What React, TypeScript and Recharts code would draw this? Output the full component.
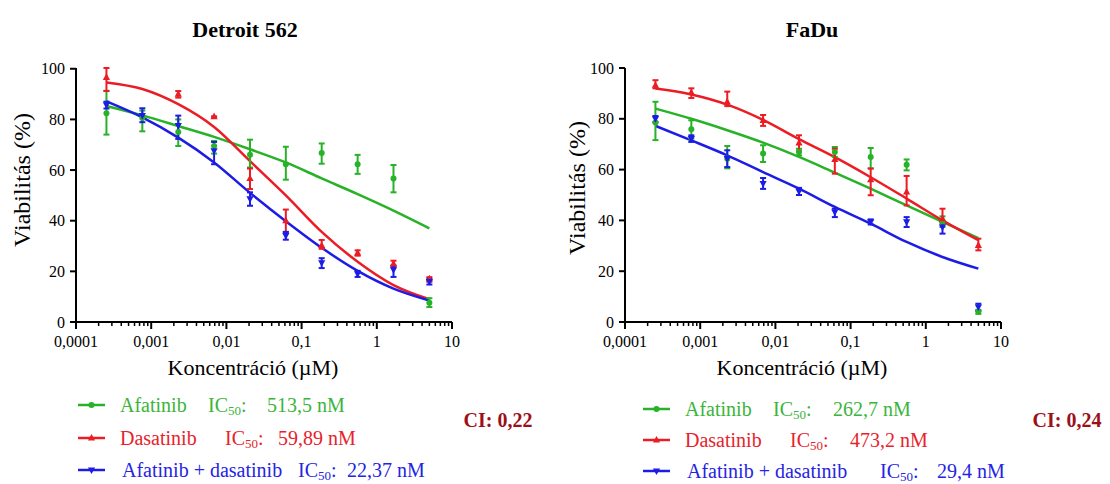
import React from 'react';
import { ComposedChart, Line, Scatter, XAxis, YAxis, ErrorBar } from 'recharts';

const FONT = '"Liberation Serif", "Times New Roman", serif';
const GREEN = '#27b227';
const RED = '#ec1c24';
const BLUE = '#1c1ce6';
const GREEN_TXT = '#3ab53a';
const RED_TXT = '#e8222b';
const BLUE_TXT = '#2424e2';
const CI_COLOR = '#9e1018';

// concentrations (µM), 3-fold dilution series
const conc = [0.000254, 0.000762, 0.00229, 0.00686, 0.0206, 0.0617, 0.185, 0.556, 1.667, 5];

const xMajorTicks = [0.0001, 0.001, 0.01, 0.1, 1, 10];
const xMajorLabels = ['0,0001', '0,001', '0,01', '0,1', '1', '10'];
const xMinorFactors = [2, 3, 4, 5, 6, 7, 8, 9];
const yTicks = [0, 20, 40, 60, 80, 100];

const chartTitles = ['Detroit 562', 'FaDu'];
const seriesNames = ['Afatinib', 'Dasatinib', 'Afatinib + dasatinib'];
const xTitle = 'Koncentráció (µM)';
const yTitle = 'Viabilitás (%)';

// Detroit 562 — Afatinib
const detAfaMean = [82.4, 80.6, 75, 69.5, 66, 62.3, 66.7, 62.3, 56.7, 7.6];
const detAfaLo = [74, 75.3, 69.5, 66.5, 61, 56.2, 62.5, 58.5, 51.2, 5.9];
const detAfaHi = [91.3, 83.5, 80, 71.5, 72, 69.2, 70.5, 66, 62, 9.4];
const detAfaFit = [85.3, 81.6, 77.4, 73.1, 68.2, 63, 56.7, 50.5, 44, 37];
// Detroit 562 — Dasatinib
const detDasMean = [96.6, null, 90, 81.1, 56.7, 40, 30.2, 27.3, 23, 17.1];
const detDasLo = [91.2, null, 88.6, 81.1, 52.5, 35.4, 28.9, 26.2, 21.7, 15.9];
const detDasHi = [100.3, null, 91.2, 81.1, 60.6, 44.4, 32.4, 28.3, 24.2, 17.7];
const detDasFit = [94.6, 92, 86, 77, 63.5, 50, 35.6, 23.8, 14.6, 9];
// Detroit 562 — Afatinib + dasatinib
const detComMean = [85.7, 81.5, 77.6, 67.6, 48.6, 34.1, 23.4, 19, 20.6, 16];
const detComLo = [84.3, 78.9, 72.3, 62.3, 45.9, 32.5, 21.3, 17.8, 17.8, 14.8];
const detComHi = [87, 84.4, 81.5, 71.1, 51.2, 35.6, 25.2, 20.2, 22.3, 17.1];
const detComFit = [87.1, 80.8, 72.8, 63, 51, 39.8, 29.3, 20.2, 13.2, 8.5];

// FaDu — Afatinib
const faAfaMean = [78.5, 75.9, 64.3, 66.3, 66.9, 66.9, 65, 61.9, 39.6, 4];
const faAfaLo = [71.6, 72.2, 60.5, 63, 65.6, 65, 60.5, 59.7, 37.4, 3.2];
const faAfaHi = [86.7, 79.4, 69.3, 69.6, 68.2, 68.9, 68.5, 64, 41.6, 4.8];
const faAfaFit = [84, 80, 75.5, 70.6, 65, 58.8, 52.5, 45.9, 39.4, 33];
// FaDu — Dasatinib
const faDasMean = [93.2, 90.4, 86.7, 79.4, 70.5, 64, 56, 51.2, 40.7, 30.2];
const faDasLo = [92, 88.2, 85, 77.2, 67.2, 58.4, 49.9, 45.9, 38.7, 28.2];
const faDasHi = [95.2, 92, 90.7, 81.5, 73.5, 68.2, 60.4, 57.5, 44.6, 32.8];
const faDasFit = [91.9, 89.6, 85.6, 79.6, 72, 64.9, 57, 48.6, 40, 32.2];
// FaDu — Afatinib + dasatinib
const faComMean = [80, 72.2, 64.3, 54.5, 51.4, 43.3, 39.4, 39.4, 37.4, 5.9];
const faComLo = [78.7, 70.9, 61, 52.4, 50, 41.3, 38.4, 37.4, 34.8, 4.4];
const faComHi = [81.1, 73.5, 67.6, 56.7, 52.8, 44.6, 40.4, 41.3, 39.4, 7.2];
const faComFit = [77.2, 71.5, 65.6, 59, 52.5, 45.3, 38.7, 31.5, 25.6, 21];

const detroitIC50 = ['513,5 nM', '59,89 nM', '22,37 nM'];
const faduIC50 = ['262,7 nM', '473,2 nM', '29,4 nM'];
const ciValues = ['CI: 0,22', 'CI: 0,24'];

type Pt = { x: number; y: number; err: [number, number] };

function toPoints(mean: (number | null)[], lo: (number | null)[], hi: (number | null)[]): Pt[] {
  const out: Pt[] = [];
  conc.forEach((x, i) => {
    const m = mean[i];
    if (m == null) return;
    out.push({ x, y: m, err: [m - (lo[i] as number), (hi[i] as number) - m] });
  });
  return out;
}
function toFit(vals: number[]) {
  return conc.map((x, i) => ({ x, y: vals[i] }));
}

const allXTicks: number[] = [];
xMajorTicks.forEach((m, i) => {
  allXTicks.push(m);
  if (i < xMajorTicks.length - 1) {
    xMinorFactors.forEach((f) => allXTicks.push(Number((m * f).toPrecision(6))));
  }
});

function majorIndex(v: number) {
  return xMajorTicks.findIndex((m) => Math.abs(m - v) / m < 1e-6);
}

const XTick = (props: any) => {
  const { x, y, payload } = props;
  const idx = majorIndex(payload.value);
  const major = idx >= 0;
  return (
    <g>
      <line x1={x} x2={x} y1={y} y2={y + (major ? 7 : 4)} stroke="#000" strokeWidth={major ? 2 : 1.5} />
      {major && (
        <text x={x} y={y + 25} textAnchor="middle" fontSize={16} fontFamily={FONT} fill="#000">
          {xMajorLabels[idx]}
        </text>
      )}
    </g>
  );
};

const circleShape = (color: string) => (p: any) => <circle cx={p.cx} cy={p.cy} r={3} fill={color} />;
const triUpShape = (color: string) => (p: any) => (
  <path d={`M${p.cx},${p.cy - 4} L${p.cx + 3.6},${p.cy + 2.6} L${p.cx - 3.6},${p.cy + 2.6} Z`} fill={color} />
);
const triDownShape = (color: string) => (p: any) => (
  <path d={`M${p.cx},${p.cy + 4} L${p.cx + 3.6},${p.cy - 2.6} L${p.cx - 3.6},${p.cy - 2.6} Z`} fill={color} />
);

const markerShapes = [circleShape, triUpShape, triDownShape];
const lineColors = [GREEN, RED, BLUE];
const textColors = [GREEN_TXT, RED_TXT, BLUE_TXT];

type PanelProps = {
  left: number;
  fits: number[][];
  points: Pt[][];
  yTitlePos: [number, number];
};

function Panel({ left, fits, points, yTitlePos }: PanelProps) {
  return (
    <div style={{ position: 'absolute', left, top: 0 }}>
      <ComposedChart width={500} height={484} margin={{ top: 68, right: 48, bottom: 102, left: 16 }}>
        <XAxis
          dataKey="x"
          type="number"
          scale="log"
          domain={[0.0001, 10]}
          allowDataOverflow
          ticks={allXTicks}
          interval={0}
          tickSize={0}
          tickMargin={0}
          tickLine={false}
          tick={<XTick />}
          axisLine={{ stroke: '#000', strokeWidth: 2 }}
          height={60}
          label={(p: any) => {
            const vb = p.viewBox || { x: 76, y: 322, width: 376 };
            return (
              <text x={vb.x + vb.width / 2 - 11} y={vb.y + 53} textAnchor="middle" fontSize={22} fontFamily={FONT} fill="#000">
                {xTitle}
              </text>
            );
          }}
        />
        <YAxis
          dataKey="y"
          type="number"
          domain={[0, 100]}
          ticks={yTicks}
          interval={0}
          width={60}
          tickSize={6}
          tickMargin={5}
          tickLine={{ stroke: '#000', strokeWidth: 2 }}
          axisLine={{ stroke: '#000', strokeWidth: 2 }}
          tick={{ fill: '#000', fontSize: 16, fontFamily: FONT }}
          label={() => (
            <text
              x={yTitlePos[0]}
              y={yTitlePos[1]}
              transform={`rotate(-90 ${yTitlePos[0]} ${yTitlePos[1]})`}
              textAnchor="middle"
              dominantBaseline="central"
              fontSize={24}
              fontFamily={FONT}
              fill="#000"
            >
              {yTitle}
            </text>
          )}
        />
        {fits.map((f, i) => (
          <Line
            key={`fit-${i}`}
            data={toFit(f)}
            dataKey="y"
            type="monotone"
            stroke={lineColors[i]}
            strokeWidth={2.5}
            dot={false}
            activeDot={false}
            isAnimationActive={false}
          />
        ))}
        {points.map((pts, i) => (
          <Scatter
            key={`pts-${i}`}
            data={pts}
            dataKey="y"
            fill={lineColors[i]}
            shape={markerShapes[i](lineColors[i])}
            isAnimationActive={false}
          >
            <ErrorBar dataKey="err" direction="y" width={3} stroke={lineColors[i]} strokeWidth={2} isAnimationActive={false} />
          </Scatter>
        ))}
      </ComposedChart>
    </div>
  );
}

const LegendIcon = ({ i }: { i: number }) => {
  const c = lineColors[i];
  const shape = markerShapes[i](c);
  return (
    <svg width={27} height={10} style={{ display: 'block' }}>
      <line x1={0} x2={27} y1={5} y2={5} stroke={c} strokeWidth={2.5} />
      {shape({ cx: 13.5, cy: 5 })}
    </svg>
  );
};

type LegendLayout = { icon: number; rows: { y: number; cols: number[] }[]; ci: [number, number] };

const legendLayouts: LegendLayout[] = [
  {
    icon: 78,
    rows: [
      { y: 405, cols: [120, 208, 267] },
      { y: 438, cols: [120, 225, 278] },
      { y: 470, cols: [122, 298, 347] },
    ],
    ci: [498, 420],
  },
  {
    icon: 643,
    rows: [
      { y: 409, cols: [685, 773, 833] },
      { y: 440, cols: [685, 790, 850] },
      { y: 471, cols: [687, 880, 937] },
    ],
    ci: [1067, 420],
  },
];

const textBase: React.CSSProperties = {
  position: 'absolute',
  fontFamily: FONT,
  fontSize: 20,
  lineHeight: '20px',
  whiteSpace: 'nowrap',
};

function LegendBlock({ layout, ic50, ci }: { layout: LegendLayout; ic50: string[]; ci: string }) {
  return (
    <>
      {layout.rows.map((r, i) => (
        <React.Fragment key={i}>
          <div style={{ position: 'absolute', left: layout.icon, top: r.y - 5 }}>
            <LegendIcon i={i} />
          </div>
          <div style={{ ...textBase, left: r.cols[0], top: r.y - 10, color: textColors[i] }}>{seriesNames[i]}</div>
          <div style={{ ...textBase, left: r.cols[1], top: r.y - 10, color: textColors[i] }}>
            IC<span style={{ fontSize: 13, position: 'relative', top: 3 }}>50</span>:
          </div>
          <div style={{ ...textBase, left: r.cols[2], top: r.y - 10, color: textColors[i] }}>{ic50[i]}</div>
        </React.Fragment>
      ))}
      <div
        style={{
          ...textBase,
          left: layout.ci[0],
          top: layout.ci[1] - 10,
          transform: 'translateX(-50%)',
          color: CI_COLOR,
          fontWeight: 'bold',
        }}
      >
        {ci}
      </div>
    </>
  );
}

export default function App() {
  const detFits = [detAfaFit, detDasFit, detComFit];
  const detPts = [
    toPoints(detAfaMean, detAfaLo, detAfaHi),
    toPoints(detDasMean, detDasLo, detDasHi),
    toPoints(detComMean, detComLo, detComHi),
  ];
  const faFits = [faAfaFit, faDasFit, faComFit];
  const faPts = [
    toPoints(faAfaMean, faAfaLo, faAfaHi),
    toPoints(faDasMean, faDasLo, faDasHi),
    toPoints(faComMean, faComLo, faComHi),
  ];
  const titleStyle: React.CSSProperties = {
    position: 'absolute',
    top: 17,
    fontFamily: FONT,
    fontSize: 22,
    fontWeight: 'bold',
    lineHeight: '26px',
    transform: 'translateX(-50%)',
    whiteSpace: 'nowrap',
    color: '#000',
  };
  return (
    <div style={{ position: 'absolute', left: 0, top: 0, width: 1110, height: 484, background: '#fff', overflow: 'hidden' }}>
      <div style={{ ...titleStyle, left: 245 }}>{chartTitles[0]}</div>
      <div style={{ ...titleStyle, left: 812 }}>{chartTitles[1]}</div>
      <Panel left={0} fits={detFits} points={detPts} yTitlePos={[22, 180]} />
      <Panel left={549} fits={faFits} points={faPts} yTitlePos={[28, 188]} />
      <LegendBlock layout={legendLayouts[0]} ic50={detroitIC50} ci={ciValues[0]} />
      <LegendBlock layout={legendLayouts[1]} ic50={faduIC50} ci={ciValues[1]} />
    </div>
  );
}
